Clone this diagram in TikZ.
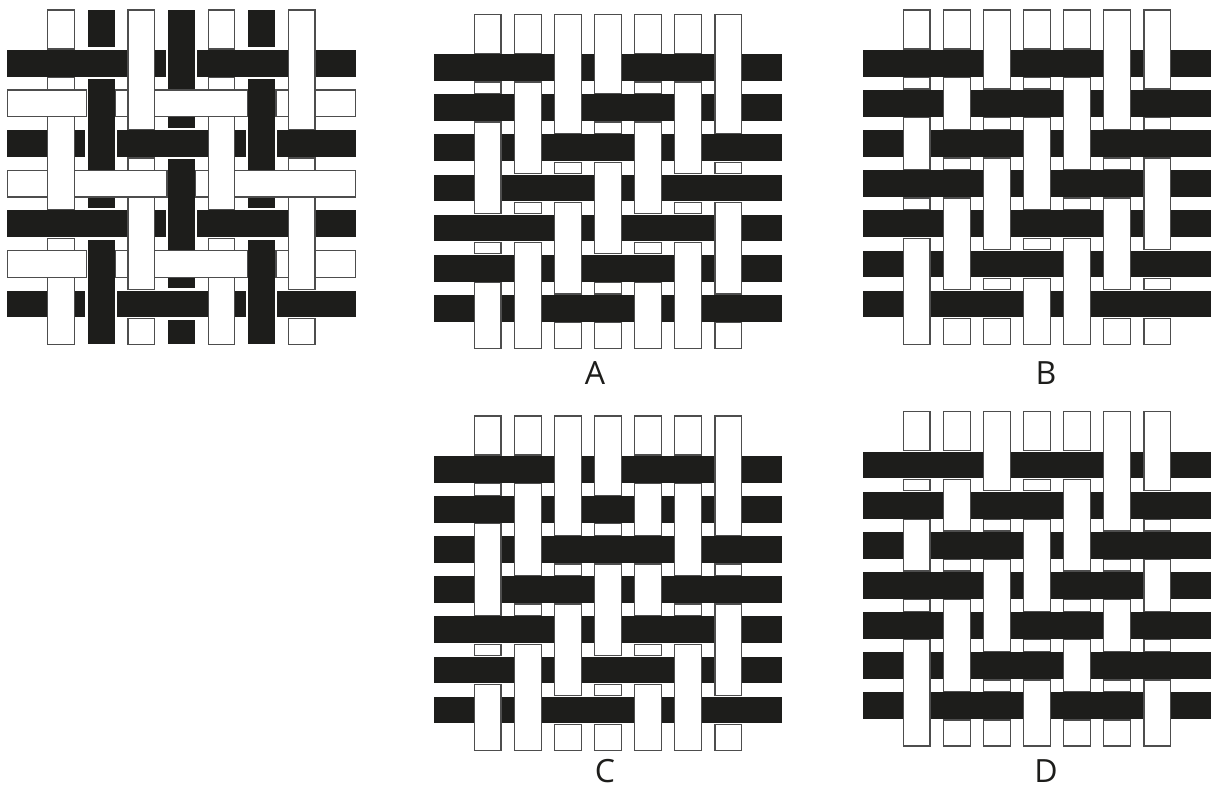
\documentclass[tikz,border=0pt]{standalone}
\usepackage{fontspec}
\setmainfont{Open Sans}
\definecolor{wblack}{HTML}{1D1D1B}
\definecolor{wgray}{HTML}{4D4D4D}
\tikzset{
  blackpiece/.style={fill=wblack},
  whitepiece/.style={fill=white, draw=wgray, line width=1.2pt},
  lbl/.style={anchor=base, font=\fontsize{32}{32}\selectfont, text=wblack, inner sep=0pt}
}
% geometry (in px = pt)
\def\wvP{40.1}
\def\wvW{26.7}
\def\wvOT{40}
\def\wvOB{27}
\def\wvOL{40.5}
\def\wvOR{40.5}
% gap: #1 colour of strip underneath, #2 colour of strip on top (1 white, 0 black)
\newcommand\wvgap[2]{%
  \ifnum#1=1 \ifnum#2=1 \def\wvg{0}\else\def\wvg{1}\fi
  \else \ifnum#2=1 \def\wvg{0}\else\def\wvg{2.5}\fi\fi}
\newcommand\wvpiece[5]{%
  \ifnum#1=\wvpass\relax
    \ifnum#1=1 \path[whitepiece] (#2,#3) rectangle (#4,#5);%
    \else \path[blackpiece] (#2,#3) rectangle (#4,#5);\fi
  \fi}
% #1 X0, #2 Y0, #3 pattern (1 = vertical on top), #4 vertical colours, #5 horizontal colours
\newcommand\weavepanel[5]{%
  \foreach \wvpass in {0,1}{%
    \foreach \r in {0,...,6}{%
      \pgfmathtruncatemacro\hc{{#5}[\r]}%
      \pgfmathsetmacro\yt{#2+\r*\wvP}%
      \pgfmathsetmacro\yb{\yt+\wvW}%
      \pgfmathsetmacro\st{#1-\wvOL}\xdef\wvst{\st}%
      \foreach \c in {0,...,6}{%
        \pgfmathtruncatemacro\v{{#3}[\r*7+\c]}%
        \ifnum\v=1
          \pgfmathtruncatemacro\vc{{#4}[\c]}%
          \wvgap{\hc}{\vc}%
          \pgfmathsetmacro\en{#1+\c*\wvP-\wvg}%
          \wvpiece{\hc}{\wvst}{\yt}{\en}{\yb}%
          \pgfmathsetmacro\ns{#1+\c*\wvP+\wvW+\wvg}\xdef\wvst{\ns}%
        \fi}%
      \pgfmathsetmacro\en{#1+6*\wvP+\wvW+\wvOR}%
      \wvpiece{\hc}{\wvst}{\yt}{\en}{\yb}%
    }%
    \foreach \c in {0,...,6}{%
      \pgfmathtruncatemacro\vc{{#4}[\c]}%
      \pgfmathsetmacro\xl{#1+\c*\wvP}%
      \pgfmathsetmacro\xr{\xl+\wvW}%
      \pgfmathsetmacro\st{#2-\wvOT}\xdef\wvst{\st}%
      \foreach \r in {0,...,6}{%
        \pgfmathtruncatemacro\v{{#3}[\r*7+\c]}%
        \ifnum\v=0
          \pgfmathtruncatemacro\hc{{#5}[\r]}%
          \wvgap{\vc}{\hc}%
          \pgfmathsetmacro\en{#2+\r*\wvP-\wvg}%
          \wvpiece{\vc}{\xl}{\wvst}{\xr}{\en}%
          \pgfmathsetmacro\ns{#2+\r*\wvP+\wvW+\wvg}\xdef\wvst{\ns}%
        \fi}%
      \pgfmathsetmacro\en{#2+6*\wvP+\wvW+\wvOB}%
      \wvpiece{\vc}{\xl}{\wvst}{\xr}{\en}%
    }%
  }}
\def\patT{0,0,1,1,0,0,1, 0,1,1,0,0,1,1, 1,1,0,0,1,1,0, 1,0,0,1,1,0,0, 0,0,1,1,0,0,1, 0,1,1,0,0,1,1, 1,1,0,0,1,1,0}
\def\patB{0,0,1,0,0,1,1, 0,1,0,0,1,1,0, 1,0,0,1,1,0,0, 0,0,1,1,0,0,1, 0,1,1,0,0,1,1, 1,1,0,0,1,1,0, 1,0,0,1,1,0,0}
\def\patC{0,0,1,1,0,0,1, 0,1,1,0,1,1,1, 1,1,0,0,0,1,0, 1,0,0,1,1,0,0, 0,0,1,1,0,0,1, 0,1,1,0,0,1,1, 1,1,0,0,1,1,0}
\def\patD{0,0,1,0,0,1,1, 0,1,0,0,1,1,0, 1,0,0,1,1,0,0, 0,0,1,1,0,0,1, 0,1,1,0,0,1,0, 1,1,0,0,1,0,0, 1,0,0,1,0,0,1}
\def\colW{1,1,1,1,1,1,1}
\def\colB{0,0,0,0,0,0,0}
\def\colWB{1,0,1,0,1,0,1}
\def\colBW{0,1,0,1,0,1,0}
\begin{document}
\begin{tikzpicture}[x=1pt,y=-1pt]
\useasboundingbox (0,0) rectangle (1212,789);
\fill[white] (0,0) rectangle (1212,789);
% original sample
\weavepanel{47.7}{50}{\patT}{\colWB}{\colBW}
% options
\weavepanel{474.3}{54.3}{\patT}{\colW}{\colB}
\weavepanel{903.3}{50}{\patB}{\colW}{\colB}
\weavepanel{474.3}{456}{\patC}{\colW}{\colB}
\weavepanel{903.3}{451.7}{\patD}{\colW}{\colB}
\node[lbl] (labA) at (595,384.5) {A};
\node[lbl] (labB) at (1046,384.5) {B};
\node[lbl] (labC) at (605,782) {C};
\node[lbl] (labD) at (1046,782) {D};
\end{tikzpicture}
\end{document}
